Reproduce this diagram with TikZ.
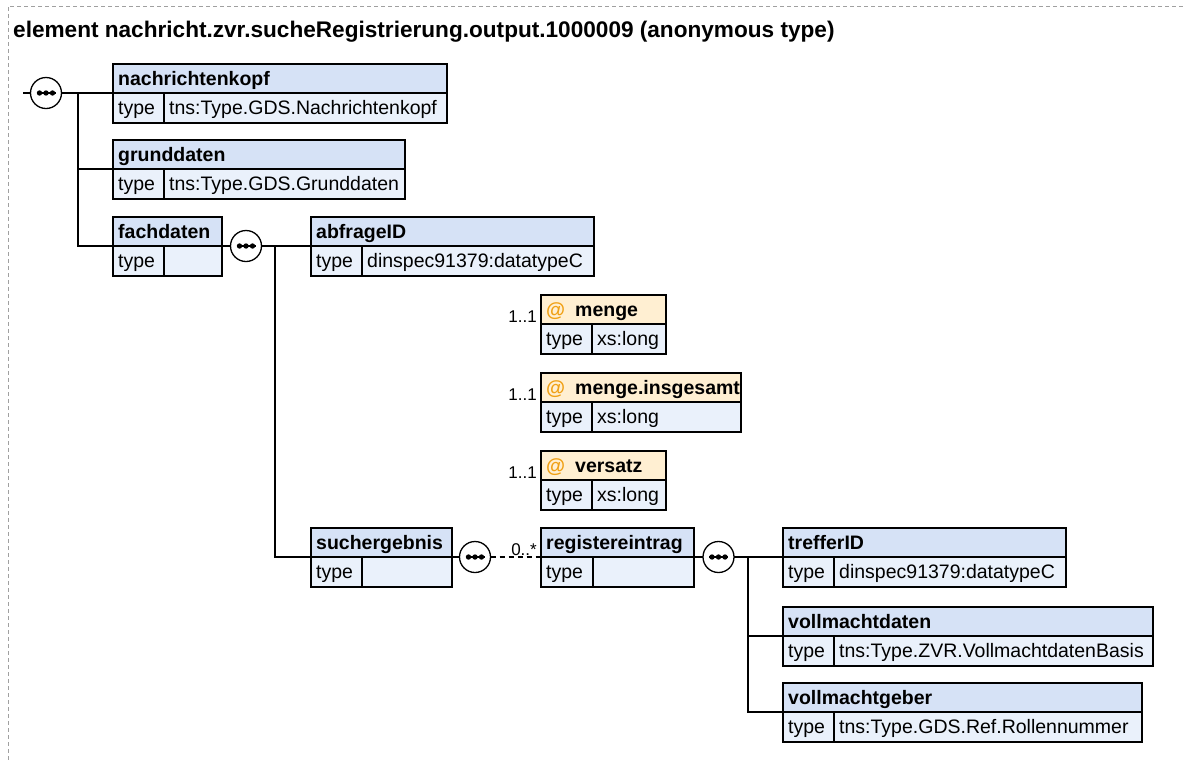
\documentclass[tikz,border=0pt]{standalone}
\usepackage{fontspec}
\setmainfont{Liberation Sans}
\definecolor{hdrblue}{RGB}{214,226,246}
\definecolor{rowblue}{RGB}{234,241,251}
\definecolor{attrhdr}{RGB}{255,239,210}
\definecolor{atcol}{RGB}{240,160,20}
\definecolor{framegray}{RGB}{160,160,160}
\tikzset{
  boxline/.style={draw=black, line width=1.3pt, inner sep=0pt, outer sep=0pt, anchor=north west},
  hdr/.style={boxline, fill=hdrblue},
  ahdr/.style={boxline, fill=attrhdr},
  rowbox/.style={boxline, fill=rowblue},
  nm/.style={font=\fontsize{19.5}{22}\selectfont\bfseries, inner sep=0pt, anchor=base west},
  tp/.style={font=\fontsize{19.5}{22}\selectfont, inner sep=0pt, anchor=base west},
  occ/.style={font=\fontsize{17}{20}\selectfont, inner sep=0pt, anchor=base east},
  comp/.style={circle, draw=black, fill=white, minimum size=31pt, inner sep=0pt, outer sep=0pt, line width=1.3pt},
  conn/.style={draw=black, line width=1.3pt},
  frameline/.style={draw=framegray, line width=0.8pt, dash pattern=on 4pt off 3pt},
}
% element box: id, left, divider, right, top, name, type, header style
\newcommand{\ebox}[8]{%
  \node[#8, minimum width={#4-#2}, minimum height=29] (#1) at (#2,#5) {};
  \node[rowbox, minimum width={#3-#2}, minimum height=30] (#1l) at (#2,#5+29) {};
  \node[rowbox, minimum width={#4-#3}, minimum height=30] (#1r) at (#3,#5+29) {};
  \node[tp] (#1t) at (#2+5,#5+50.5) {type};
  \node[tp] (#1v) at (#3+5,#5+50.5) {#7};
  \node[nm] (#1n) at (#2+5,#5+21) {#6};
}
\newcommand{\attrname}[4]{% id, left, top, name
  \node[nm, text=atcol] (#1at) at (#2+5,#3+21) {@};
  \node[nm] (#1an) at (#2+34,#3+21) {#4};
  \node[occ] (#1o) at (#2-4,#3+27) {1..1};
}
\newcommand{\compo}[3]{%
  \node[comp] (#1) at (#2,#3) {};
  \draw[line width=1.2pt] ([xshift=-9.5pt]#1.center) -- ([xshift=9.5pt]#1.center);
  \foreach \d in {-6.5,0,6.5} \fill ([xshift=\d pt]#1.center) circle (2.7);
}
\begin{document}
\begin{tikzpicture}[x=1pt,y=-1pt]
\useasboundingbox (0,0) rectangle (1183,761);
% frame
\coordinate (ftl) at (8,6);
\coordinate (ftr) at (1183,6);
\coordinate (fbl) at (8,761);
\draw[frameline] (ftr) -- (ftl) -- (fbl);
\node[font=\fontsize{22.6}{26}\selectfont\bfseries, inner sep=0pt, anchor=base west] (title) at (13,37)
  {element nachricht.zvr.sucheRegistrierung.output.1000009 (anonymous type)};

% root sequence
\coordinate (start) at (23,93);
\coordinate (b0) at (78,93);
\compo{c0}{46}{93}
\ebox{nk}{113}{164}{447}{64}{nachrichtenkopf}{tns:Type.GDS.Nachrichtenkopf}{hdr}
\ebox{gd}{113}{164}{405}{140}{grunddaten}{tns:Type.GDS.Grunddaten}{hdr}
\ebox{fd}{113}{164}{222}{217}{fachdaten}{}{hdr}
\draw[conn] (start) -- (c0.west);
\draw[conn] (c0.east) -- (nk.south west);
\draw[conn] (b0) |- (gd.south west);
\draw[conn] (b0) |- (fd.south west);

% fachdaten sequence
\compo{c1}{246}{246}
\coordinate (b1) at (275,246);
\ebox{ab}{311}{362}{594}{217}{abfrageID}{dinspec91379:datatypeC}{hdr}
\ebox{su}{311}{362}{452}{528}{suchergebnis}{}{hdr}
\draw[conn] (fd.south east) -- (c1.west);
\draw[conn] (c1.east) -- (ab.south west);
\draw[conn] (b1) |- (su.south west);

% attributes
\ebox{me}{541}{592}{666}{295}{}{xs:long}{ahdr}
\attrname{me}{541}{295}{menge}
\ebox{mi}{541}{592}{741}{373}{}{xs:long}{ahdr}
\attrname{mi}{541}{373}{menge.insgesamt}
\ebox{ve}{541}{592}{666}{451}{}{xs:long}{ahdr}
\attrname{ve}{541}{451}{versatz}

% suchergebnis sequence
\compo{c2}{475}{557}
\ebox{re}{541}{593}{694}{528}{registereintrag}{}{hdr}
\draw[conn] (su.south east) -- (c2.west);
\draw[conn, dash pattern=on 5pt off 4pt] (c2.east) -- (re.south west);
\node[occ] (reo) at (537,555) {0..*};

% registereintrag sequence
\compo{c3}{718.5}{557}
\coordinate (b3) at (748,557);
\ebox{tr}{783}{834}{1066}{528}{trefferID}{dinspec91379:datatypeC}{hdr}
\ebox{vd}{783}{834}{1153}{607}{vollmachtdaten}{tns:Type.ZVR.VollmachtdatenBasis}{hdr}
\ebox{vg}{783}{834}{1142}{683}{vollmachtgeber}{tns:Type.GDS.Ref.Rollennummer}{hdr}
\draw[conn] (re.south east) -- (c3.west);
\draw[conn] (c3.east) -- (tr.south west);
\draw[conn] (b3) |- (vd.south west);
\draw[conn] (b3) |- (vg.south west);
\end{tikzpicture}
\end{document}
